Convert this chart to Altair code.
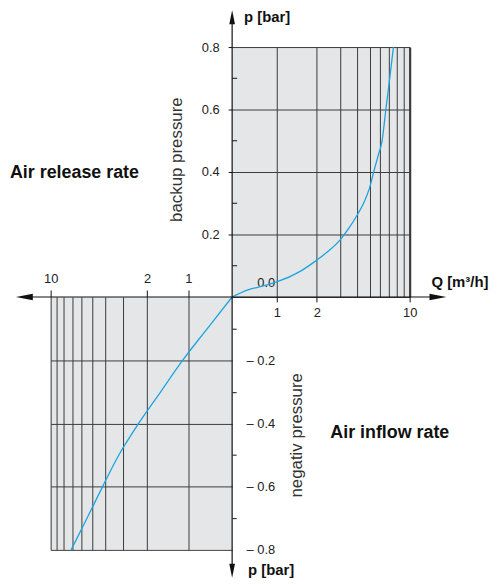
import altair as alt
import pandas as pd

# ---------------- data ----------------
# air release rate (upper right quadrant): flow Q [m3/h] vs backup pressure p [bar]
release_q = [0.4616, 0.6, 0.8, 1.0, 1.5, 2.0, 2.4, 3.0, 3.5, 4.0, 4.5, 5.0, 5.36, 5.77, 6.2, 6.62, 7.08, 7.55]
release_p = [0.0, 0.022, 0.036, 0.048, 0.082, 0.118, 0.144, 0.183, 0.221, 0.26, 0.30, 0.35, 0.40, 0.45, 0.50, 0.60, 0.70, 0.80]
# air inflow rate (lower left quadrant): flow Q [m3/h] vs negative pressure p [bar]
inflow_q = [0.482, 0.73, 1.1, 1.59, 2.3, 3.2, 4.2, 5.45, 7.1]
inflow_p = [0.0, -0.1, -0.2, -0.3, -0.4, -0.5, -0.6, -0.7, -0.8]

grid_q = [1, 2, 3, 4, 5, 6, 7, 8, 9, 10]
labelled_q = [1, 2, 10]
release_ticks = [0.0, 0.2, 0.4, 0.6, 0.8]
release_minor = [0.1, 0.3, 0.5, 0.7]
inflow_ticks = [-0.1, -0.2, -0.3, -0.4, -0.5, -0.6, -0.7, -0.8]

texts = {
    "release": "Air release rate",
    "inflow": "Air inflow rate",
    "p": "p [bar]",
    "q": "Q [m³/h]",
    "backup": "backup pressure",
    "neg": "negativ pressure",
}

# ---------------- style ----------------
FONT = "Liberation Sans"
FILL = "#e5e6e8"
GRID = "#3a3a3a"
CURVE = "#1ca4e0"
INK = "#111111"
LABEL = "#222222"

W_L, W_R = 183, 179
H_T, H_B = 252, 255

release = pd.DataFrame({"Q": release_q, "p": release_p})
inflow = pd.DataFrame({"Q": inflow_q, "p": inflow_p})
minor = pd.DataFrame({"p": release_minor})
one = pd.DataFrame({"k": [0]})

lab_test = "indexof(%s, datum.value) >= 0" % str(labelled_q)
major_test = "abs(round(datum.value * 10)) % 2 == 0"

# ---------------- upper right: release ----------------
x_rel = alt.X(
    "Q:Q",
    scale=alt.Scale(type="log", domain=[release_q[0], 10], nice=False),
    axis=alt.Axis(
        orient="bottom", values=grid_q, title=None, domain=False,
        grid=True, gridColor=GRID,
        gridWidth={"condition": {"test": "datum.value == 10", "value": 2.2}, "value": 1},
        tickColor=INK, tickSize=5,
        tickOpacity={"condition": {"test": lab_test, "value": 1}, "value": 0},
        labelExpr=f"{lab_test} ? format(datum.value, 'd') : ''",
        labelPadding=5, labelFlush=False, labelOverlap=False,
    ),
)
y_rel = alt.Y(
    "p:Q",
    scale=alt.Scale(domain=[0, 0.8], nice=False, zero=False),
    axis=alt.Axis(
        orient="left", values=release_ticks, title=texts["backup"], format=".1f",
        domain=False, grid=True, gridColor=GRID, gridWidth=1,
        tickColor=INK, tickSize=4,
        tickOpacity={"condition": {"test": "datum.value == 0", "value": 0}, "value": 1},
        labelPadding={"condition": {"test": "datum.value == 0", "value": -47}, "value": 9},
        labelOffset={"condition": {"test": "datum.value == 0", "value": -15}, "value": 0},
        labelFlush=False, labelOverlap=False,
        titleAngle=270, titleX=-56, titleY=113, titleAlign="center", titleBaseline="middle",
        titleFontSize=17, titleFontWeight="normal", titleColor="#333333",
    ),
)
rel_curve = alt.Chart(release).mark_line(
    color=CURVE, strokeWidth=1.3, interpolate="monotone"
).encode(x=x_rel, y=y_rel)
rel_minor = alt.Chart(minor).mark_rule(color=INK, strokeWidth=1).encode(
    y=y_rel, x=alt.value(0), x2=alt.value(5)
)
upper = alt.layer(rel_minor, rel_curve).properties(
    width=W_R, height=H_T, view=alt.ViewBackground(fill=FILL, strokeWidth=0)
)

# ---------------- lower left: inflow ----------------
x_inf = alt.X(
    "Q:Q",
    scale=alt.Scale(type="log", domain=[inflow_q[0], 10], nice=False, reverse=True),
    axis=alt.Axis(
        orient="top", values=grid_q, title=None, domain=False,
        grid=True, gridColor=GRID, gridWidth=1,
        tickColor=INK, tickSize=7,
        tickOpacity={"condition": {"test": lab_test, "value": 1}, "value": 0},
        labelExpr=f"{lab_test} ? format(datum.value, 'd') : ''",
        labelPadding=5, labelFlush=False, labelOverlap=False,
    ),
)
y_inf = alt.Y(
    "p:Q",
    scale=alt.Scale(domain=[-0.8, 0], nice=False, zero=False),
    axis=alt.Axis(
        orient="right", values=inflow_ticks, title=texts["neg"], domain=False,
        grid=True, gridColor=GRID, gridWidth=1,
        gridOpacity={"condition": {"test": major_test, "value": 1}, "value": 0},
        tickColor=INK, tickSize=4,
        tickOpacity={"condition": {"test": major_test, "value": 0}, "value": 1},
        labelExpr=f"{major_test} ? '– ' + format(-datum.value, '.1f') : ''",
        labelPadding=10, labelFlush=False, labelOverlap=False,
        titleAngle=270, titleX=65, titleY=139, titleAlign="center", titleBaseline="middle",
        titleFontSize=17, titleFontWeight="normal", titleColor="#333333",
    ),
)
lower = alt.Chart(inflow).mark_line(
    color=CURVE, strokeWidth=1.3, interpolate="monotone"
).encode(x=x_inf, y=y_inf).properties(
    width=W_L, height=H_B, view=alt.ViewBackground(fill=FILL, strokeWidth=0)
)

# ---------------- top left: caption ----------------
top_left = alt.Chart(one).mark_text(
    text=texts["release"], font=FONT, fontSize=18, fontWeight="bold",
    align="left", baseline="alphabetic", color=INK,
).encode(x=alt.value(-41), y=alt.value(132)).properties(width=W_L, height=H_T)

# ---------------- bottom right: caption, axis arrows, axis names ----------------
def txt(t, x, y, size=15, weight="bold"):
    return alt.Chart(one).mark_text(
        text=t, font=FONT, fontSize=size, fontWeight=weight,
        align="left", baseline="alphabetic", color=INK,
    ).encode(x=alt.value(x), y=alt.value(y))

def head(path, x, y, size):
    return alt.Chart(one).mark_point(
        shape=path, filled=True, color=INK, opacity=1, size=size, strokeWidth=0
    ).encode(x=alt.value(x), y=alt.value(y))

h_line = alt.Chart(one).mark_rule(color=INK, strokeWidth=1.2).encode(
    x=alt.value(-212), x2=alt.value(210), y=alt.value(0)
)
v_line = alt.Chart(one).mark_rule(color=INK, strokeWidth=1.2).encode(
    y=alt.value(-284), y2=alt.value(278), x=alt.value(0)
)
bottom_right = alt.layer(
    h_line, v_line,
    head("M-1,0L1,-0.39L1,0.39Z", -209.5, 0, 289),
    head("M1,0L-1,-0.39L-1,0.39Z", 207.5, 0, 289),
    head("M0,-1L-0.41,1L0.41,1Z", 0, -282, 196),
    head("M0,1L-0.41,-1L0.41,-1Z", 0, 276, 196),
    txt(texts["p"], 12, -277),
    txt(texts["p"], 16, 280),
    txt(texts["q"], 201, -10),
    txt(texts["inflow"], 99, 142, size=18),
).properties(width=W_R, height=H_B)

chart = alt.concat(
    top_left, upper, lower, bottom_right,
    columns=2, spacing=0, bounds="flush", align="each",
).properties(
    padding={"left": 2, "top": 0, "right": 0, "bottom": 0}
).configure(font=FONT).configure_view(strokeWidth=0).configure_axis(
    labelFont=FONT, labelFontSize=13, labelColor=LABEL, titleFont=FONT
)

chart.save("out.html", embed_options={"renderer": "svg", "actions": False})
